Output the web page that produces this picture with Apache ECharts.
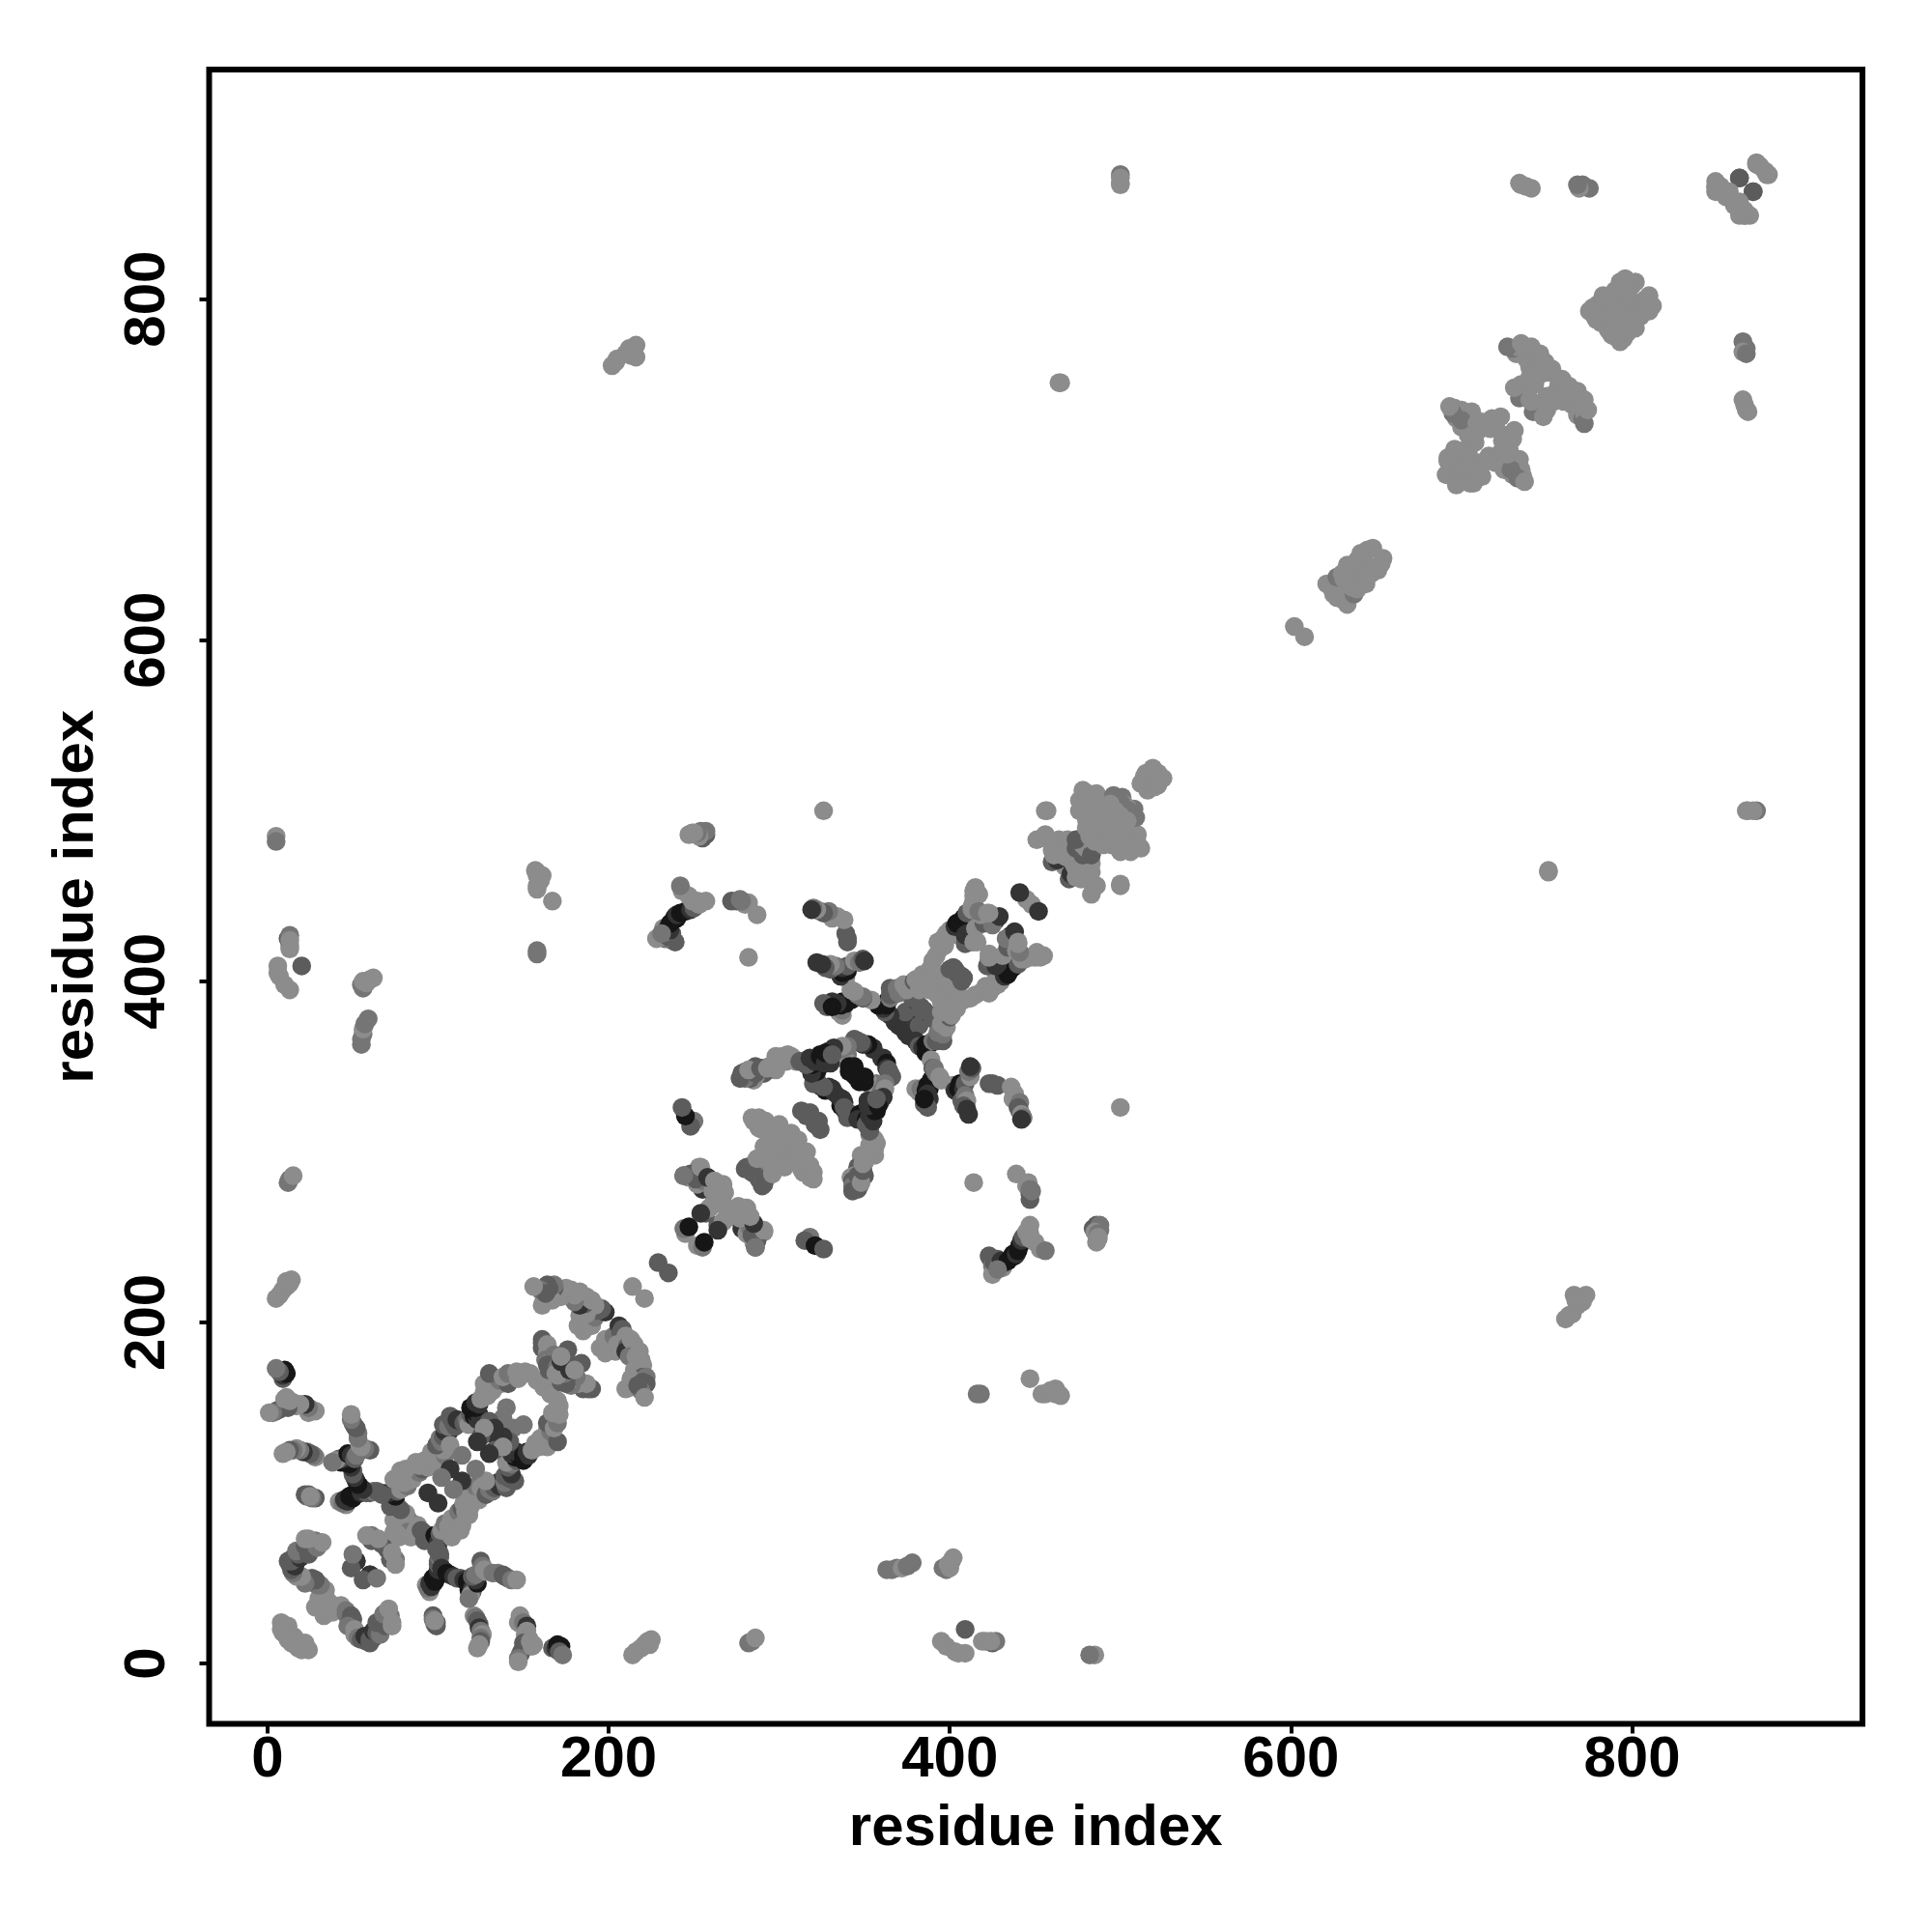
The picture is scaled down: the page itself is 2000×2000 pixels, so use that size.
<!DOCTYPE html>
<html><head><meta charset="utf-8">
<style>html,body{margin:0;padding:0;background:#fff}#c{width:2000px;height:2000px}</style>
<script src="https://cdn.jsdelivr.net/npm/echarts@6/dist/echarts.min.js"></script>
</head><body><div id="c"></div>
<script>
// Contacts as [residue i, residue j, score]; the contact map is symmetric, so each is drawn at (i,j) and (j,i).
const tickValues=[0,200,400,600,800];
const axisTitle='residue index';
const bottomLeft=[[14,12,1],[12,15,1],[16,11,1],[18,9,1],[21,9,1],[24,8,1],[11,18,1],[9,23,1],[10,20,1],[13,17,1],[16,15,1],[20,10,1],[22,12,1],[8,20,1],
[33,28,1],[38,30,1],[43,34,1],[37,35,1],[42,32,1],[46,29,2],[46,31,2],[49,28,3],[50,26,3],[48,24,3],[47,22,2],[51,20,1],[51,17,1],[53,15,2],[55,14,3],[58,13,3],[57,16,4],[60,14,3],[60,12,3],[62,15,3],[62,19,4],[64,18,3],[66,18,3],[67,22,3],[66,17,2],[69,22,3],[71,26,3],[70,24,3],[64,24,3],[68,29,2],[72,28,2],[71,32,1],[73,24,1],[73,22,1],
[52,60,4],[60,52,4],[56,49,3],[64,50,2],[70,67,3],[72,61,3],[75,61,2],[73,65,1],[75,58,1]];
const firstCross=[[97,28,3],[97,26,2],[98,23,2],[99,24,3],[99,22,3],[98,25,1],[121,28,1],[122,27,2],[123,25,3],[124,23,3],[124,21,4],[125,19,2],[126,17,1],[125,15,2],[125,13,3],[124,11,1],[123,9,1],
[147,24,1],[148,28,1],[150,24,2],[152,22,4],[152,19,1],[151,17,1],[153,15,1],[150,12,3],[150,9,3],[149,7,3],[148,5,3],[147,3,2],[147,1,1],[154,13,1],[155,10,1],[156,11,1],[167,9,3],[169,9,4],[170,11,5],[172,10,5],[171,7,3],[173,5,2],
[93,46,1],[95,42,1],[94,44,2],[95,47,4],[96,45,4],[98,48,5],[97,50,5],[99,50,5],[99,52,5],[100,55,4],[100,58,3],[100,60,3],[101,62,2],[101,64,3],[100,67,3],[102,56,4],[104,54,4],[105,53,5],[107,52,5],[109,51,4],[111,50,3],[113,50,3],[115,49,4],[117,48,5],[118,43,5],[118,46,5],[119,48,5],[121,45,5],[120,44,4],[120,42,3],[119,40,1],[118,38,2],[123,47,5],[122,49,4],[120,51,3],[122,52,2],[125,60,3],[126,57,2],[127,55,1],[128,54,1],[132,53,2],[135,53,2],[138,52,3],[139,51,3],[141,50,3],[143,49,2],[146,49,1]];
const helixBundle=[[81,79,1],[77,74,1],[79,76,1],[85,82,2],[88,81,1],[87,78,1],[84,74,1],[90,78,3],[92,72,3],[91,77,3],[95,75,3],[98,75,5],[100,71,4],[99,67,3],[101,76,3],[102,78,1],[104,79,1],[104,82,2],[106,80,1],[108,74,1],[107,82,1],[108,85,1],[110,84,1],[111,86,1],[113,78,1],[113,88,1],[112,89,2],[114,81,1],[114,91,3],[116,89,1],[118,87,1],[115,94,1],[119,92,1],[117,97,1],[119,94,1],[118,99,1],[121,102,1],[123,100,1],[124,96,1],[122,104,2],[125,103,1],[127,102,1],[128,99,3],[130,102,2],[131,105,3],[132,101,2],[133,103,3],[135,106,3],[136,104,4],[137,107,4],[140,103,3],[139,106,2],[143,108,3],[139,110,3],[141,109,3],[145,107,3],[143,111,4],[142,113,4],[141,115,3],[143,117,2],[140,118,1],[146,119,3],[145,121,5],[143,123,4],[148,121,5],[147,123,5],[146,124,4],[150,119,5],[150,122,5],[152,124,4],[153,122,4],[155,125,1],[157,129,1],[159,127,1],[161,130,1],[160,132,1],[163,133,1],[164,127,1],[167,133,1],[164,137,1],[166,136,2],[164,141,3],[170,130,3],[168,138,1],[170,141,2],[171,146,1],[167,147,1],[171,151,1],[170,154,1],[166,158,1],[162,162,1],[158,166,1],
[150,140,2],[144,138,2],[142,130,3],[139,130,3],[138,133,4],[136,130,4],[135,128,4],[133,125,3],[138,127,1],[130,123,4],[128,107,1],[122,114,2],[114,107,4],[109,102,2],[100,94,4]];
const hairpinA=[[190,161,3],[188,161,3],[185,161,3],[187,164,1],[182,164,1],[178,163,2],[177,166,1],[181,168,2],[175,164,3],[172,165,3],[176,169,3],[174,170,2],[170,169,1],[177,172,4],[179,174,4],[182,175,3],[184,176,3],[180,172,1],
[195,185,1],[198,182,1],[198,190,1],[201,187,1],[204,183,1],[203,192,2],[206,198,4],[208,196,3],[207,194,3],[210,192,1],[205,187,1],[207,186,1],[211,186,3],[210,183,4],[213,190,1],[215,187,1],[212,180,2],[216,180,1],[218,183,1],[219,178,1],[215,172,1],[220,175,1],[218,171,1],[217,168,1],[220,168,3],[213,167,1],[222,168,2],[220,165,3],[210,161,1],[213,162,1],[222,164,3],[219,160,2],[217,163,3],[221,156,1],[221,214,1],[235,229,3]];
const ringC=[[252,245,1],[255,244,2],[256,247,5],[264,257,3],[267,259,1],[268,260,1],[273,262,1],[276,268,1],[279,267,1],[281,267,1],[284,259,4],[278,255,4],[281,252,1],[283,255,2],[285,247,1],[287,249,1],[291,253,1],[286,244,3],[318,250,2],[315,248,3],[321,245,5],[326,243,3],
[259,267,1],[254,264,4],[267,269,1],[261,277,1],[267,280,1],[251,284,3],[248,287,3],[244,286,2],[254,291,1],[258,285,4],[262,283,1],[276,264,1],[270,263,1]];
const blobD=[[280,290,3],[284,288,3],[282,291,2],[286,294,1],[291,286,2],[291,284,3],[291,281,3],[296,290,1],[287,296,1],[288,320,1],[292,318,1],[288,314,1],[293,312,1],[298,311,1],[291,303,1],[296,300,1],[300,300,1],[300,307,1],[305,310,1],[304,303,1],[304,298,1],[306,294,1],[310,298,1],[310,296,1],[312,300,1],[311,307,1],[315,294,1],[316,300,1],[315,290,1],[313,290,1],[318,285,1],[318,288,1],[319,288,1],[320,284,1],[321,316,3],[322,316,3],[324,313,3],[323,318,3],
[320,340,3],[321,340,3],[325,338,4],[327,336,5],[329,338,4],[331,337,4],[335,332,4],[337,330,4],[338,326,3],[340,323,3],[342,322,3],[361,355,4],[360,355,4],[363,352,5],[363,349,4],[364,348,3],[365,346,3],[366,344,3],[358,337,1],[357,340,2],[353,340,1],[350,341,5],[347,341,5],[345,344,5],[343,347,5],[344,350,5],[362,340,2],[360,336,2],[362,337,1],
[359,329,4],[355,330,5],[354,326,4],[361,332,4],[357,324,5],[352,323,4],[349,323,4],[349,320,4],[347,322,5],[346,319,4],[351,319,5],[358,328,4],[351,316,3],[353,313,3],[353,310,1],[356,307,1],[357,305,1],[353,304,1],[356,302,1],[355,300,1],[356,298,1],[352,300,1],[348,298,1],[350,294,1],[347,292,1],[346,291,3],[349,289,3],[344,286,1],[348,286,3],[350,286,3],[342,285,1],[343,283,3],[344,281,3],[347,283,1],[347,280,3],[346,278,3],
[280,343,2],[284,347,1],[277,343,3],[286,346,3],[282,348,1],[289,349,3],[293,349,1],[297,349,1],[300,352,1],[304,355,1],[308,355,1],[312,353,3],[316,352,3],[318,355,4],[321,353,4],[324,356,5],[327,352,4],[330,352,4],[327,358,5],[331,357,3]];
const crossE=[[368,376,4],[376,368,4],[374,370,4],[380,378,4],[382,374,3],[385,379,3],[389,380,4],[390,378,3],[385,383,3],[392,399,1],[395,398,1],[396,390,1],[392,393,1],[388,395,1],[393,403,1],[398,405,1],[403,395,1],[380,365,4],[382,362,3],[384,361,4],[386,363,5],[386,358,5],[388,363,5],[390,365,2],[392,365,3],[396,365,3],[393,370,2],[396,369,2],[398,373,1],[395,375,1],[397,378,1],[400,379,3],[401,380,1],[395,382,1],[404,384,1],[403,386,1],[398,386,1],[406,388,1],[408,389,1],[412,390,1],[415,392,1],[419,394,1],[421,397,1],[422,395,1],[425,396,1],[423,393,1],[428,398,1],[427,401,1],[430,400,1],[432,403,4],[434,404,5],[433,407,5],[435,406,5],[436,409,5],[437,408,5],[438,409,5],[440,410,3],[442,413,1],[444,413,1],[447,414,1],[450,414,1],[451,417,1],[455,415,1],[453,414,1],
[402,408,3],[404,405,3],[408,402,3],[407,403,3],[407,400,3],[422,409,3],[423,412,3],[425,413,2],[427,409,4],[428,410,4],[423,414,1],[423,416,1],[431,415,1],[434,420,3],[436,427,4],[437,425,4],[433,425,2],[438,429,4],[439,418,1],[441,417,2],[440,423,1],[440,422,1],[448,445,1],[452,441,4],
[380,337,1],[382,335,1],[383,337,2],[387,339,5],[388,337,5],[386,336,5],[389,342,5],[387,334,4],[388,331,4],[385,328,3],[387,326,3],[385,331,5],[389,354,1],[390,349,3],[391,349,2],[392,346,2],[394,344,1],[395,342,1],[402,339,1],[403,336,4],[405,337,5],[406,340,5],[408,337,4],[409,340,3],[412,344,1],[411,347,2],[413,349,3],[412,350,4],[407,330,3],[409,333,2],[410,330,1],[408,327,3],[410,325,4],[411,322,4],[423,340,3],[425,340,3],[428,339,3],[436,338,1],[438,334,1],[437,331,1],[441,329,2],[440,326,3],[441,324,3],[442,322,1],[443,320,2],[442,319,4]];
const farLower=[[214,5,1],[216,7,1],[219,9,1],[221,11,1],[224,11,1],[222,12,1],[223,13,1],[225,14,1],[282,12,2],[284,13,2],[286,15,1],[363,55,2],[366,55,2],[369,56,2],[372,56,1],[375,57,2],[378,59,2],[396,56,2],[398,55,2],[399,58,1],[400,56,1],[401,60,1],[402,62,1],[395,13,1],[398,10,1],[403,7,1],[405,6,1],[409,6,1],[409,20,3],[419,13,1],[421,13,1],[425,12,3],[427,13,2],[424,13,1],[485,5,1],[482,5,2],
[418,158,2],[416,158,2],[447,167,1],[454,158,1],[456,158,1],[459,160,1],[462,158,1],[465,157,1],[464,158,1],[462,161,1],[751,464,1],[873,500,2],[867,500,1],
[761,202,1],[763,204,1],[765,205,1],[766,216,1],[767,213,1],[768,210,1],[771,212,1],[770,214,1],[773,216,1],[500,326,1],[500,456,1],[457,500,1],[414,282,1],[439,287,1],[445,280,1],[446,282,1],[447,272,3],[447,275,3],[448,277,2],[447,278,2],
[484,255,3],[486,257,3],[488,257,2],[488,254,2],[485,253,1],[487,252,2],[487,250,1],[487,249,1],[486,247,1],
[424,237,2],[423,239,3],[425,233,2],[425,228,1],[426,231,1],[426,235,3],[428,237,3],[429,233,1],[431,232,1],[430,236,4],[432,235,4],[434,236,5],[436,238,5],[437,240,5],[438,239,5],[439,240,4],[440,242,5],[441,245,5],[442,248,4],[443,250,3],[447,249,1],[445,253,1],[447,252,1],[447,257,1],[450,247,1],[453,243,1],[456,242,2],[428,231,2]];
const packG=[[483,451,1],[486,456,1],[483,458,1],[483,464,1],[477,462,1],[470,460,3],[473,465,1],[471,466,2],[467,468,1],[463,471,4],[461,474,1],[460,477,1],[466,474,1],[468,473,1],[475,470,1],[480,470,1],[469,483,1],[475,483,3],[474,478,3],[478,480,1],[483,474,3],[482,485,1],[487,482,1],[490,480,1],[495,480,1],[500,476,1],[498,483,1],[502,479,1],[498,479,1],[505,481,1],[506,476,1],[512,478,1],[510,481,1],[510,486,1],[508,484,1],[506,489,1],[509,496,2],[508,501,2],[503,498,2],[504,502,1],[498,507,2],[500,505,2],[493,502,1],[497,500,1],[497,491,1],[490,492,1],[489,497,1],[488,503,1],[495,495,1],[501,492,1],[502,487,1],[493,487,1],[504,494,1],[512,516,1],[514,520,1],[515,522,1],[517,518,1],[519,514,1],[519,524,1],[522,516,1],[522,522,1],[525,519,1]];
const upperDiagonal=[[608,602,1],[627,625,1],[630,624,1],[633,628,2],[631,628,1],[633,621,1],[637,627,2],[639,630,1],[636,631,1],[639,635,1],[642,634,1],[644,633,1],[645,640,1],[647,639,1],[651,641,1],[650,643,1],[653,645,1],[654,648,1],
[697,691,1],[699,693,1],[700,695,1],[703,695,1],[705,692,1],[705,698,1],[701,700,1],[708,700,1],[710,704,1],[709,695,1],[707,692,1],[712,703,1],[712,696,1],[716,708,1],[720,704,1],[722,704,1],[725,700,1],[730,697,1],[725,707,1],[730,704,1],[732,704,1],[736,696,1],[735,698,1],[735,700,1],[733,695,2],[737,693,1],[734,706,1],[729,700,2],[723,710,1],[727,709,1],[728,712,1],[726,720,1],[730,718,1],[731,723,1],[724,717,1],
[745,735,1],[742,734,2],[743,738,2],[748,731,1],[750,735,1],[748,740,1],[750,743,1],[754,740,1],[741,740,1],[755,745,1],[757,750,1],[752,759,1],[758,746,1],[759,753,1],[760,740,1],[763,749,1],[761,743,1],[764,742,1],[765,738,1],[768,738,1],[770,735,1],[768,732,1],[770,741,1],[771,730,2],[772,733,1],[772,727,2],[774,735,1],[772,738,1],[768,746,1],[772,741,1],
[786,782,1],[790,778,1],[793,775,1],[795,777,1],[788,779,1],[797,780,1],[792,786,1],[796,783,1],[799,787,1],[792,793,1],[795,790,1],[797,792,1],[800,798,1],[800,790,1],[802,790,1],[805,790,1],[805,798,1],[808,800,1],[810,802,1],[810,793,1],[812,796,1],[802,783,1],[806,796,1]];
const farUpper=[[865,775,2],[866,772,2],[867,771,2],[865,769,1],[867,768,2],[865,741,1],[866,738,1],[867,735,1],[868,734,1],[500,871,1],[500,868,1],[873,880,1],[875,878,1],[879,873,1],[863,871,3],[871,863,3],[857,863,1],[855,860,1],[849,866,1],[851,866,1],[849,863,1],[866,852,1],[866,850,1],[866,849,1],[869,849,1],[863,856,1],[465,751,1]];
const clusters=[bottomLeft,firstCross,helixBundle,hairpinA,ringC,blobD,crossE,farLower,packG,upperDiagonal,farUpper];

const points=[];
clusters.forEach(c=>c.forEach(([i,j,s])=>{points.push([i,j,s]);points.push([j,i,s]);}));

const chart=echarts.init(document.getElementById('c'),null,{renderer:'canvas'});
const axisFont={fontFamily:'Liberation Sans',fontWeight:'bold',fontSize:60,color:'#000'};
function axis(min,max,gap,labelRotate,margin,nameRot){return {
  type:'value',min,max,
  name:axisTitle,nameLocation:'middle',nameGap:gap,nameRotate:nameRot,nameTextStyle:axisFont,
  splitLine:{show:false},
  axisLine:{show:false,onZero:false},
  axisTick:{show:true,length:10,lineStyle:{color:'#000',width:4},customValues:tickValues},
  axisLabel:{show:true,rotate:labelRotate,margin,...axisFont,customValues:tickValues,hideOverlap:false}
};}
chart.setOption({
  animation:false,
  backgroundColor:'#fff',
  grid:{left:216.5,top:72,width:1711.5,height:1712.5,show:true,borderWidth:6,borderColor:'#000',backgroundColor:'transparent',containLabel:false},
  xAxis:axis(-34.27,935.1,79,0,8,0),
  yAxis:axis(-35.4,934.6,107,90,33,90),
  visualMap:{show:false,dimension:2,min:1,max:5,seriesIndex:0,
    inRange:{color:['#8c8c8c','#757575','#5c5c5c','#343434','#161616']}},
  series:[{type:'scatter',data:points,symbol:'circle',symbolSize:19.5,silent:true,progressive:0,large:false,itemStyle:{opacity:1,borderWidth:0}}]
});
</script></body></html>
